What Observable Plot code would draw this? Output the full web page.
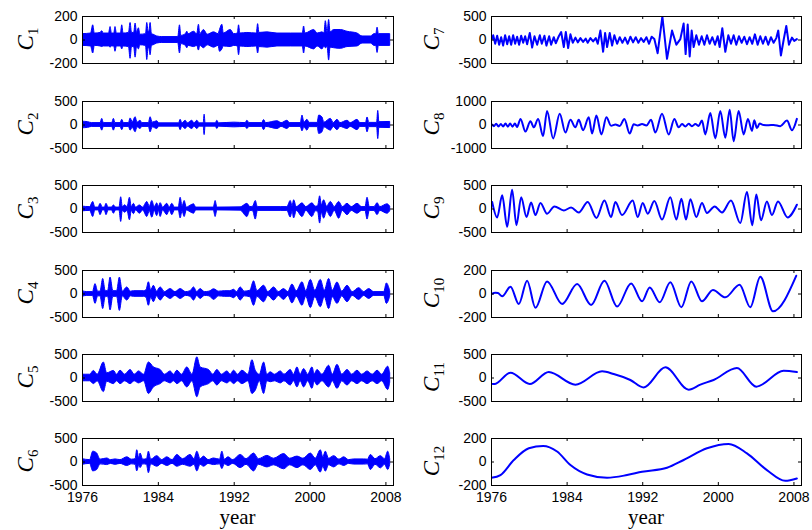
<!DOCTYPE html>
<html><head><meta charset="utf-8">
<script src="https://cdn.jsdelivr.net/npm/d3@7"></script>
<script src="https://cdn.jsdelivr.net/npm/@observablehq/plot@0.6"></script>
<style>
body{margin:0;background:#fff;}
#fig{position:relative;width:812px;height:530px;overflow:hidden;background:#fff;}
.panel{position:absolute;}
.ylab{position:absolute;font-family:"Liberation Serif","DejaVu Serif",serif;font-size:23px;white-space:nowrap;transform:translate(-50%,-50%) rotate(-90deg);line-height:1;}
.ylab sub{font-size:15px;font-style:normal;vertical-align:-5px;}
.xlab{position:absolute;font-family:"Liberation Serif","DejaVu Serif",serif;font-size:21px;transform:translateX(-50%);line-height:1;}
</style>
</head><body><div id="fig"></div>
<script>
// ---- axes ----
const xTicks = [1976, 1984, 1992, 2000, 2008];
const xDomain = [1976, 2008.8];
const yLimits = [200, 500, 500, 500, 500, 500, 500, 1000, 500, 200, 500, 200];

// ---- C1..C6: envelope (upper/lower) of the fast oscillations ----
const c1Year = [1976.00,1976.90,1977.13,1977.30,1977.90,1978.08,1978.25,1978.80,1978.96,1979.10,1979.35,1979.48,1979.62,1980.05,1980.19,1980.33,1980.90,1981.07,1981.22,1981.45,1981.60,1981.75,1981.95,1982.10,1982.70,1982.83,1982.97,1983.05,1983.18,1983.32,1983.50,1983.88,1984.41,1986.10,1986.28,1986.42,1986.90,1987.05,1987.20,1987.76,1988.10,1988.28,1988.42,1988.81,1989.20,1989.87,1990.35,1990.50,1990.75,1990.90,1991.63,1992.00,1992.38,1992.51,1992.65,1993.39,1994.38,1994.52,1994.66,1995.50,1996.56,1998.00,1999.23,1999.37,1999.51,2000.43,2000.80,2001.31,2001.52,2001.66,2001.85,2002.01,2002.16,2002.54,2003.24,2003.95,2005.00,2005.53,2006.41,2006.80,2006.98,2007.12,2007.26,2008.45];
const c1Hi = [50,55,125,55,60,75,55,55,110,55,55,110,55,55,125,55,60,145,60,60,140,60,100,45,50,145,70,70,145,50,45,30,25,25,125,35,50,70,50,70,50,130,50,85,45,65,50,85,130,55,85,50,55,125,55,60,55,135,60,65,55,55,55,115,55,85,55,65,55,160,60,170,65,85,85,70,55,30,30,50,50,105,50,50];
const c1Lo = [-50,-55,-115,-50,-55,-60,-55,-55,-65,-55,-55,-100,-55,-55,-80,-55,-60,-160,-60,-60,-150,-60,-80,-45,-50,-170,-70,-70,-130,-50,-45,-30,-25,-25,-115,-35,-50,-70,-50,-60,-50,-90,-50,-70,-45,-65,-50,-100,-80,-55,-60,-50,-55,-130,-55,-60,-55,-115,-60,-65,-55,-55,-55,-115,-55,-80,-55,-80,-55,-70,-60,-175,-65,-70,-75,-60,-55,-30,-30,-50,-50,-110,-50,-50];

const c2Year = [1976.00,1976.60,1977.00,1977.90,1978.08,1978.25,1979.13,1979.31,1979.48,1980.02,1980.19,1980.36,1980.90,1981.07,1981.30,1981.60,1981.80,1982.12,1982.30,1983.00,1983.18,1983.40,1983.88,1984.10,1986.18,1986.35,1986.52,1986.88,1987.10,1987.58,1987.80,1988.11,1988.35,1988.78,1988.88,1988.98,1990.05,1990.22,1990.40,1992.00,1993.20,1993.39,1993.60,1994.95,1995.15,1995.35,1996.56,1997.00,1997.61,1997.90,1999.02,1999.20,1999.40,1999.72,1999.95,2000.80,2000.96,2001.31,2001.50,2002.19,2002.50,2002.89,2003.20,2003.95,2004.30,2005.00,2005.30,2005.90,2006.06,2006.25,2007.07,2007.19,2007.31,2008.45];
const c2Hi = [70,60,40,40,130,40,40,130,40,40,110,40,40,140,60,165,50,90,40,40,165,50,80,35,35,110,35,90,35,90,35,90,35,35,220,35,35,90,35,50,40,90,40,40,105,40,80,40,90,40,40,200,50,110,45,45,200,160,50,130,40,110,40,90,40,110,40,40,160,45,45,300,60,65];
const c2Lo = [-70,-60,-40,-40,-120,-40,-40,-120,-40,-40,-110,-40,-40,-120,-60,-155,-50,-85,-40,-40,-155,-50,-85,-35,-35,-110,-35,-85,-35,-85,-35,-85,-35,-35,-215,-35,-35,-85,-35,-50,-40,-85,-40,-40,-110,-40,-85,-40,-85,-40,-40,-135,-50,-120,-45,-45,-190,-155,-50,-120,-40,-110,-40,-85,-40,-110,-40,-40,-155,-45,-45,-300,-60,-65];

const c3Year = [1976.00,1976.80,1977.13,1977.35,1977.70,1977.90,1978.15,1978.35,1978.53,1978.75,1979.10,1979.31,1979.55,1979.90,1980.08,1980.25,1980.50,1980.75,1981.00,1981.20,1981.42,1981.65,1982.05,1982.40,1982.83,1983.10,1983.36,1983.62,1983.88,1984.05,1984.24,1984.50,1984.94,1985.20,1985.47,1985.75,1986.15,1986.35,1986.55,1986.77,1987.00,1987.40,1987.76,1988.00,1989.85,1990.04,1990.22,1992.68,1993.39,1993.70,1994.00,1994.27,1994.50,1996.91,1997.60,1997.96,1998.15,1998.32,1998.60,1999.20,1999.60,2000.25,2000.60,2000.85,2001.06,2001.25,2001.48,2001.80,2002.19,2002.60,2003.07,2003.45,2003.95,2004.40,2005.00,2005.50,2005.85,2006.06,2006.30,2006.80,2007.12,2007.40,2008.17,2008.45];
const c3Hi = [50,40,150,30,30,110,30,30,110,30,30,75,30,30,250,40,80,40,240,40,110,30,75,30,150,50,170,40,120,40,125,30,110,30,110,30,30,240,50,170,30,70,100,30,30,170,30,35,110,40,50,170,40,40,40,170,60,185,40,120,40,120,50,60,270,80,185,50,150,40,150,40,110,40,110,40,40,240,40,40,125,40,100,50];
const c3Lo = [-50,-40,-170,-30,-30,-130,-30,-30,-130,-30,-30,-100,-30,-30,-275,-40,-80,-40,-240,-40,-110,-30,-100,-30,-170,-50,-185,-40,-150,-40,-170,-30,-130,-30,-130,-30,-30,-200,-50,-170,-30,-70,-100,-30,-30,-170,-30,-35,-170,-40,-50,-225,-40,-40,-40,-180,-60,-200,-40,-170,-40,-170,-50,-60,-310,-80,-205,-50,-170,-40,-205,-40,-130,-40,-100,-40,-40,-225,-40,-40,-130,-40,-100,-50];

const c4Year = [1976.00,1976.50,1977.10,1977.37,1977.65,1977.90,1978.18,1978.45,1978.70,1978.96,1979.25,1979.65,1979.94,1980.25,1980.72,1981.10,1981.42,1982.48,1982.75,1983.00,1983.25,1983.53,1983.85,1984.24,1984.70,1985.29,1985.80,1986.35,1986.90,1987.40,1987.76,1988.10,1988.46,1988.90,1989.40,1989.87,1990.40,1991.00,1991.60,1991.98,1992.30,1992.68,1993.10,1993.70,1994.09,1994.45,1995.15,1995.60,1996.20,1996.70,1997.26,1997.70,1998.14,1998.60,1999.20,1999.60,2000.08,2000.55,2001.13,2001.55,2002.01,2002.40,2002.89,2003.40,2003.95,2004.50,2005.18,2005.70,2006.24,2006.76,2007.82,2008.10,2008.45];
const c4Hi = [60,40,40,210,50,50,320,60,60,350,60,60,350,50,140,50,60,60,80,250,80,175,50,140,40,105,40,105,40,60,140,40,105,40,50,100,50,60,60,90,40,140,50,70,270,60,175,40,140,40,105,40,200,60,250,60,300,70,300,70,320,70,245,50,175,40,125,40,105,40,40,225,60];
const c4Lo = [-60,-40,-40,-210,-50,-50,-320,-60,-60,-350,-60,-60,-360,-50,-140,-50,-60,-60,-80,-250,-80,-175,-50,-140,-40,-105,-40,-105,-40,-60,-140,-40,-105,-40,-50,-125,-50,-60,-60,-90,-40,-140,-50,-70,-250,-60,-175,-40,-140,-40,-125,-40,-200,-60,-250,-60,-300,-70,-280,-70,-320,-70,-210,-50,-175,-40,-125,-40,-105,-40,-40,-210,-60];

const c5Year = [1976.00,1976.80,1977.20,1977.60,1978.25,1978.60,1979.31,1979.65,1980.01,1980.50,1981.07,1981.50,1981.95,1982.50,1983.00,1983.53,1984.24,1984.70,1985.29,1985.65,1986.00,1986.50,1987.05,1987.60,1988.11,1988.46,1989.34,1989.80,1990.22,1990.70,1991.28,1991.63,1991.98,1992.40,1992.86,1993.50,1993.92,1994.27,1994.70,1995.15,1995.50,1995.85,1996.30,1996.91,1997.30,1997.96,1998.30,1998.67,1999.00,1999.37,1999.80,2000.25,2000.50,2000.78,2001.30,2002.01,2002.40,2002.89,2003.40,2003.95,2004.45,2005.00,2005.50,2006.06,2006.60,2007.12,2007.60,2008.24,2008.45];
const c5Hi = [70,70,150,70,330,100,150,70,155,70,170,70,140,70,330,225,170,70,140,70,155,70,225,70,440,225,170,70,170,70,140,70,155,70,155,70,380,155,70,330,70,120,70,140,70,170,70,225,70,190,70,225,80,170,70,260,70,280,70,170,70,155,70,140,70,155,70,240,100];
const c5Lo = [-70,-70,-130,-70,-300,-80,-130,-70,-130,-70,-130,-70,-115,-70,-340,-200,-130,-70,-115,-70,-130,-70,-200,-70,-410,-200,-130,-70,-160,-70,-115,-70,-130,-70,-130,-70,-340,-270,-70,-340,-70,-90,-70,-115,-70,-160,-70,-200,-70,-200,-70,-230,-80,-160,-70,-200,-70,-230,-70,-160,-70,-130,-70,-130,-70,-130,-70,-255,-100];

const c6Year = [1976.00,1976.80,1977.13,1977.55,1977.90,1978.60,1979.00,1979.48,1980.00,1980.72,1981.20,1981.60,1981.77,1982.00,1982.12,1982.40,1982.80,1983.00,1983.25,1983.88,1984.40,1984.94,1985.50,1986.00,1986.60,1987.40,1987.80,1988.11,1988.45,1988.81,1989.30,1989.87,1990.50,1990.75,1991.00,1991.40,1991.90,1992.68,1993.30,1994.09,1994.60,1995.50,1996.20,1997.26,1997.90,1998.67,1999.30,2000.08,2000.60,2001.13,2001.40,2001.66,2002.00,2002.54,2003.10,2003.60,2004.10,2004.65,2005.71,2006.10,2006.41,2006.90,2007.47,2007.90,2008.24,2008.45];
const c6Hi = [60,40,220,180,50,75,40,55,40,100,50,60,250,70,180,50,60,220,50,125,40,100,40,150,60,150,60,220,60,115,40,75,50,220,50,100,40,150,60,180,60,130,70,170,70,115,70,180,70,250,100,220,70,125,50,100,40,55,55,50,150,60,125,60,220,60];
const c6Lo = [-60,-40,-200,-170,-50,-65,-40,-60,-40,-85,-50,-60,-200,-70,-130,-50,-60,-240,-50,-100,-40,-85,-40,-100,-60,-100,-60,-200,-60,-100,-40,-65,-50,-150,-50,-85,-40,-130,-60,-200,-60,-115,-70,-155,-70,-130,-70,-170,-70,-225,-100,-205,-70,-115,-50,-85,-40,-55,-55,-50,-170,-60,-135,-60,-170,-60];

// ---- C7..C12: single curves (turning points) ----
const c7Year = [1976.00,1976.18,1976.39,1976.60,1976.81,1977.02,1977.23,1977.44,1977.66,1977.87,1978.08,1978.29,1978.50,1978.71,1978.92,1979.14,1979.35,1979.56,1979.77,1980.05,1980.30,1980.55,1980.83,1981.11,1981.32,1981.60,1981.81,1982.10,1982.31,1982.59,1982.80,1983.12,1983.37,1983.65,1983.86,1984.11,1984.35,1984.60,1984.88,1985.13,1985.41,1985.69,1985.97,1986.18,1986.47,1986.75,1987.03,1987.24,1987.52,1987.81,1988.02,1988.23,1988.51,1988.76,1989.00,1989.29,1989.57,1989.85,1990.13,1990.41,1990.70,1990.98,1991.26,1991.54,1991.82,1992.10,1992.39,1992.67,1992.95,1993.23,1993.58,1994.08,1994.57,1995.10,1995.56,1995.98,1996.33,1996.54,1996.76,1996.97,1997.18,1997.39,1997.67,1997.95,1998.24,1998.52,1998.80,1999.08,1999.36,1999.65,1999.93,2000.14,2000.42,2000.74,2001.06,2001.34,2001.62,2001.90,2002.18,2002.47,2002.75,2003.03,2003.31,2003.59,2003.87,2004.16,2004.44,2004.72,2005.00,2005.28,2005.57,2005.85,2006.13,2006.34,2006.62,2006.91,2007.19,2007.47,2007.79,2008.03,2008.31];
const c7Val = [0,100,-80,90,-100,60,-120,100,-90,80,-100,100,-80,70,-100,90,-60,80,-90,150,-160,80,-100,100,-80,90,-120,80,-100,60,-70,80,170,-150,170,-170,120,-60,50,-50,40,-40,30,-60,40,-30,40,-80,200,-250,150,-150,150,-120,100,-80,60,-60,50,-80,70,-50,60,-60,40,-40,60,-80,70,20,-280,500,-400,200,-100,20,350,-300,330,-350,200,-150,100,-100,80,-100,100,-80,60,-100,80,-150,250,-250,100,-80,100,-100,80,-60,70,-90,60,-80,120,-100,80,-80,70,-100,60,-60,40,200,-330,0,300,-100,50,-20,20];

const c8Year = [1976.00,1976.25,1976.49,1976.74,1976.99,1977.23,1977.48,1977.73,1977.97,1978.22,1978.47,1978.71,1979.07,1979.59,1980.12,1980.48,1980.93,1981.46,1981.88,1982.52,1983.22,1983.82,1984.35,1984.88,1985.23,1985.69,1986.29,1986.64,1987.10,1987.63,1988.16,1988.65,1989.11,1989.57,1990.06,1990.62,1991.05,1991.47,1991.93,1992.39,1992.88,1993.34,1994.04,1994.75,1995.35,1995.80,1996.16,1996.51,1996.86,1997.21,1997.57,1997.92,1998.27,1998.62,1999.15,1999.68,2000.21,2000.74,2001.20,2001.62,2002.15,2002.68,2003.13,2003.56,2003.80,2004.09,2004.37,2004.79,2005.32,2005.85,2006.55,2007.26,2007.79,2008.31];
const c8Val = [40,-50,50,-60,40,-60,60,-70,60,-70,60,-80,260,-280,160,-100,260,-470,600,-570,480,-320,220,-100,220,-220,330,-360,400,-400,330,-30,20,-40,260,-360,30,-20,40,-20,220,-320,480,-400,260,-100,40,-60,50,-50,40,-40,190,-400,510,-570,600,-540,650,-690,600,-400,260,-250,200,-130,60,0,-10,0,-50,190,-220,260];

const c9Year = [1976.07,1976.60,1977.13,1977.66,1978.18,1978.64,1979.14,1979.70,1980.19,1980.65,1981.18,1981.88,1982.66,1983.65,1984.42,1985.23,1986.18,1987.10,1987.95,1988.65,1989.11,1989.81,1990.94,1991.47,1992.00,1992.53,1993.23,1994.04,1994.92,1995.56,1996.09,1996.58,1997.04,1997.67,1998.27,1998.80,1999.61,2000.39,2001.34,2002.32,2003.03,2003.59,2004.02,2004.51,2005.14,2005.67,2006.31,2007.33,2008.31];
const c9Val = [150,-180,290,-380,410,-345,250,-170,140,-130,130,-100,55,-30,30,-75,150,-190,180,-170,150,-130,180,-170,130,-100,170,-225,250,-225,220,-225,210,-170,130,-85,55,-75,180,-300,360,-345,310,-240,160,-130,160,-180,90];

const c10Year = [1976.00,1976.42,1976.67,1977.13,1978.01,1978.89,1979.77,1980.65,1981.88,1983.47,1985.06,1986.54,1987.95,1989.29,1990.77,1991.93,1992.74,1993.80,1994.92,1996.09,1997.14,1998.27,1999.43,2000.74,2002.25,2003.38,2004.44,2005.78,2008.24];
const c10Val = [0,10,8,-20,62,-85,113,-118,107,-85,85,-93,113,-107,90,-62,56,-70,100,-113,107,-62,34,-28,79,-113,147,-147,155];

const c11Year = [1976.00,1976.30,1978.01,1980.05,1982.06,1984.88,1987.70,1988.93,1990.69,1992.10,1994.40,1996.86,1998.10,1999.50,2001.97,2004.02,2006.91,2008.31];
const c11Val = [-125,-130,113,-128,128,-142,142,85,-42,-200,227,-248,-140,-42,213,-184,156,128];

const c12Year = [1976.00,1976.95,1978.36,1979.95,1981.46,1982.94,1984.35,1986.11,1988.23,1990.34,1991.93,1994.57,1996.33,1998.80,2001.09,2003.03,2005.14,2007.08,2008.31];
const c12Val = [-134,-111,17,117,137,89,-26,-106,-134,-111,-83,-49,17,117,154,74,-69,-160,-140];

// ---- assemble ----
const bands = [[c1Year,c1Hi,c1Lo],[c2Year,c2Hi,c2Lo],[c3Year,c3Hi,c3Lo],[c4Year,c4Hi,c4Lo],[c5Year,c5Hi,c5Lo],[c6Year,c6Hi,c6Lo]];
const curves = [[c7Year,c7Val],[c8Year,c8Val],[c9Year,c9Val],[c10Year,c10Val],[c11Year,c11Val],[c12Year,c12Val]];

const fig = document.getElementById("fig");
const boxTops = [16, 101, 185, 270, 354, 438];
const boxH = 47;
const BLUE = "#0000ff";

for (let k = 0; k < 12; k++) {
  const col = k < 6 ? 0 : 1;
  const row = k % 6;
  const lim = yLimits[k];
  const W = 406;
  const ml = col === 0 ? 82 : 85, mr = col === 0 ? 13 : 11;
  const mt = 10, mb = row === 5 ? 24 : 12;
  const plotW = W - ml - mr;
  const yTicks = [-lim, 0, lim];
  const marks = [];
  if (col === 0) {
    const [yr, hi, lo] = bands[row];
    const idx = d3.range(yr.length);
    marks.push(Plot.areaY(idx, {x: i => yr[i], y1: i => lo[i], y2: i => hi[i], fill: BLUE, stroke: BLUE, strokeWidth: 1, curve: "monotone-x"}));
  } else {
    const [yr, v] = curves[row];
    const idx = d3.range(yr.length);
    marks.push(Plot.line(idx, {x: i => yr[i], y: i => v[i], stroke: BLUE, strokeWidth: 2, curve: row === 0 ? "linear" : "monotone-x"}));
  }
  marks.push(
    Plot.frame({stroke: "black", strokeWidth: 1}),
    Plot.ruleX(xTicks, {stroke: "black", insetBottom: boxH - 3}),
    Plot.ruleX(xTicks, {stroke: "black", insetTop: boxH - 3}),
    Plot.ruleY(yTicks, {stroke: "black", insetRight: plotW - 3}),
    Plot.ruleY(yTicks, {stroke: "black", insetLeft: plotW - 3}),
    Plot.axisY(yTicks, {tickSize: 0, tickPadding: 5, tickFormat: d => String(d)})
  );
  if (row === 5) marks.push(Plot.axisX(xTicks, {tickSize: 0, tickPadding: 7, tickFormat: d => String(d)}));
  const svg = Plot.plot({
    width: W, height: mt + boxH + mb,
    marginTop: mt, marginBottom: mb, marginLeft: ml, marginRight: mr,
    x: {domain: xDomain, axis: null},
    y: {domain: [-lim, lim], axis: null},
    clip: true,
    style: {fontFamily: '"Liberation Sans", Arial, sans-serif', fontSize: "14px", color: "black", background: "transparent", overflow: "visible"},
    marks
  });
  svg.classList.add("panel");
  svg.style.left = (col * 406) + "px";
  svg.style.top = (boxTops[row] - mt) + "px";
  fig.appendChild(svg);

  const lab = document.createElement("div");
  lab.className = "ylab";
  lab.innerHTML = `<i>C</i><sub>${k + 1}</sub>`;
  lab.style.left = (col === 0 ? 27 : 433) + "px";
  lab.style.top = (boxTops[row] + 23) + "px";
  fig.appendChild(lab);
}
for (const cx of [237.5, 646]) {
  const t = document.createElement("div");
  t.className = "xlab";
  t.textContent = "year";
  t.style.left = cx + "px";
  t.style.top = "507px";
  fig.appendChild(t);
}
</script>
</body></html>
